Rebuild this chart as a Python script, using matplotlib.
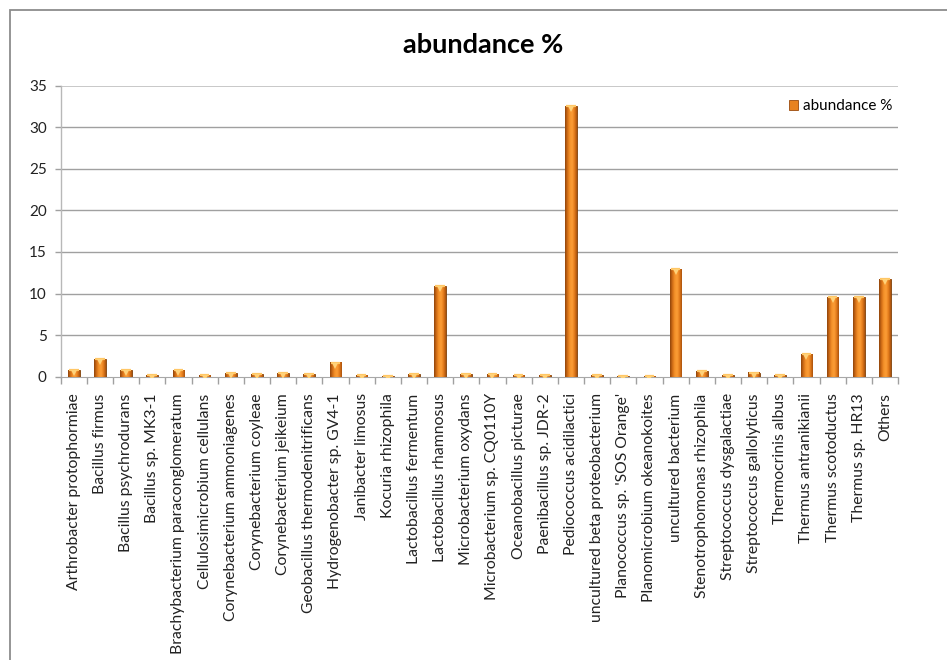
import numpy as np
import matplotlib
matplotlib.use('Agg')
import matplotlib.pyplot as plt
import matplotlib.patches as mpatches
import matplotlib.transforms as mtransforms
from matplotlib.colors import LinearSegmentedColormap

plt.rcParams['font.family'] = ['Lato', 'DejaVu Sans']

species = [
    'Arthrobacter protophormiae', 'Bacillus firmus', 'Bacillus psychrodurans',
    'Bacillus sp. MK3-1', 'Brachybacterium paraconglomeratum',
    'Cellulosimicrobium cellulans', 'Corynebacterium ammoniagenes',
    'Corynebacterium coyleae', 'Corynebacterium jeikeium',
    'Geobacillus thermodenitrificans', 'Hydrogenobacter sp. GV4-1',
    'Janibacter limosus', 'Kocuria rhizophila', 'Lactobacillus fermentum',
    'Lactobacillus rhamnosus', 'Microbacterium oxydans',
    'Microbacterium sp. CQ0110Y', 'Oceanobacillus picturae',
    'Paenibacillus sp. JDR-2', 'Pediococcus acidilactici',
    'uncultured beta proteobacterium', "Planococcus sp. 'SOS Orange'",
    'Planomicrobium okeanokoites', 'uncultured bacterium',
    'Stenotrophomonas rhizophila', 'Streptococcus dysgalactiae',
    'Streptococcus gallolyticus', 'Thermocrinis albus',
    'Thermus antranikianii', 'Thermus scotoductus', 'Thermus sp. HR13',
    'Others',
]
abundance = [
    0.8, 2.1, 0.8, 0.2, 0.8, 0.2, 0.4, 0.3, 0.4, 0.3, 1.7, 0.2, 0.1, 0.3,
    10.9, 0.3, 0.3, 0.2, 0.2, 32.5, 0.2, 0.1, 0.1, 12.9, 0.65, 0.2, 0.5,
    0.2, 2.7, 9.55, 9.55, 11.7,
]
y_ticks = [0, 5, 10, 15, 20, 25, 30, 35]

W, H = 947, 660
fig = plt.figure(figsize=(W / 100, H / 100), dpi=100)
ax = fig.add_axes([60.7 / W, 1 - 376.7 / H, (898 - 60.7) / W, (376.7 - 85.7) / H])

# chart-area border (runs off the right and bottom edges)
fig.patches.append(mpatches.Rectangle((9.5 / W, -0.1), 1.2, 1.1 - 9.5 / H,
                                      transform=fig.transFigure, fill=False,
                                      edgecolor='#8c8c8c', linewidth=1.3))

x = np.arange(len(species))
bw = 0.45
shade = LinearSegmentedColormap.from_list(
    'cyl', ['#8f440a', '#d06c16', '#f5922a', '#fb9d36', '#e47c1c', '#a9520d'])
grad = np.linspace(0, 1, 64).reshape(1, -1)

bars = ax.bar(x, abundance, width=bw, color='#e8821f', edgecolor='#7a3d08',
              linewidth=0.6, zorder=3, label='abundance %')
for b, v in zip(bars, abundance):
    x0 = b.get_x()
    ax.imshow(grad, cmap=shade, aspect='auto', zorder=3.5,
              extent=[x0, x0 + bw, 0, v], interpolation='bilinear')
    # light bevel strip on top
    ax.plot([x0 + 0.04, x0 + bw - 0.04], [v, v], color='#ffc766',
            linewidth=1.6, zorder=4, solid_capstyle='butt')

cap = mtransforms.offset_copy(ax.transData, fig=fig, y=-3, units='dots')
ax.plot(x, abundance, linestyle='none', marker='v', markersize=4.5,
        color='#ffd27a', markeredgewidth=0, zorder=5, transform=cap)

ax.set_xlim(-0.5, len(species) - 0.5)
ax.set_ylim(0, 35)
ax.set_yticks(y_ticks)
ax.set_yticklabels([str(t) for t in y_ticks], fontsize=11, color='#222222')
ax.set_xticks(x)
ax.set_xticklabels(species, rotation=90, fontsize=11.3, color='#222222')
ax.tick_params(axis='x', which='major', length=0, pad=12)
ax.set_xticks(np.arange(-0.5, len(species)), minor=True)
ax.tick_params(axis='x', which='minor', length=5, color='#a0a0a0', width=1)
ax.tick_params(axis='y', length=4, color='#a0a0a0', width=1, pad=6)

for t in y_ticks[1:-1]:
    ax.axhline(t, color='#a0a0a0', linewidth=1.0, zorder=1)
ax.axhline(35, color='#c8c8c8', linewidth=1.4, zorder=1)
for side in ['top', 'right']:
    ax.spines[side].set_visible(False)
ax.spines['left'].set_color('#b8b8b8')
ax.spines['bottom'].set_color('#a8a8a8')
ax.spines['left'].set_linewidth(1.0)

fig.text(483 / W, 1 - 45 / H, 'abundance %', ha='center', va='center',
         fontsize=19.5, fontweight='bold', color='black')

leg_handle = mpatches.Patch(facecolor='#e8821f', edgecolor='#9a4a0c', linewidth=0.6)
ax.legend([leg_handle], ['abundance %'], loc='upper right', frameon=False,
          fontsize=11, bbox_to_anchor=(1.0, 0.975), handlelength=0.6,
          handleheight=0.6, handletextpad=0.3, borderaxespad=0)

fig.savefig('out.png', dpi=100)
